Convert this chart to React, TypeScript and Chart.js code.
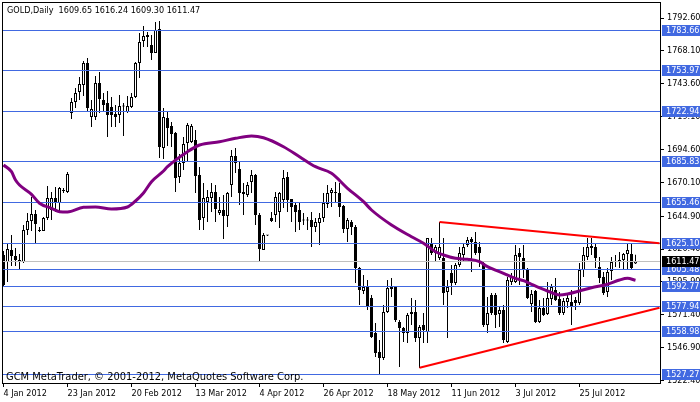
import React, { useEffect, useRef } from "react";
import { Chart, registerables } from "chart.js";

Chart.register(...registerables);

// ---- data (GOLD daily, bar index 0 = 4 Jan 2012) ----
const openP = [
  1615.96,1610.75,1619.69,1615.22,1612.24,1610.75,1634.60,1641.30,1646.52,1634.60,
  1633.85,1643.54,1649.50,1658.45,1654.72,1663.66,1662.92,1721.80,1730.00,1737.45,
  1742.67,1759.07,1718.81,1718.81,1744.16,1731.49,1729.25,1726.27,1721.05,1720.31,
  1727.01,1722.54,1726.27,1733.72,1759.07,1775.46,1778.44,1772.48,1766.52,1784.41,
  1695.71,1718.07,1712.11,1706.89,1674.10,1684.53,1699.44,1700.19,1701.68,1675.59,
  1643.54,1655.47,1658.45,1662.92,1647.27,1649.50,1645.03,1668.14,1689.75,1680.06,
  1662.92,1660.68,1670.37,1675.59,1645.78,1619.69,1630.87,1643.54,1645.78,1648.01,
  1656.96,1674.10,1657.70,1653.23,1649.50,1642.05,1642.05,1642.05,1636.83,1639.81,
  1643.54,1653.97,1662.17,1662.92,1662.17,1652.48,1635.34,1640.56,1636.83,1606.28,
  1589.13,1592.11,1583.91,1557.82,1543.66,1539.19,1573.48,1590.62,1592.11,1566.03,
  1561.55,1557.82,1571.99,1573.48,1554.10,1563.79,1558.57,1624.91,1617.46,1613.73,
  1613.73,1588.39,1602.55,1595.09,1608.51,1615.96,1623.42,1627.89,1625.65,1621.93,
  1610.00,1563.79,1586.15,1586.15,1571.99,1574.97,1551.12,1595.84,1595.84,1617.46,
  1613.73,1604.78,1579.44,1589.13,1566.03,1576.46,1571.99,1583.17,1589.88,1583.17,
  1572.73,1580.93,1580.93,1582.42,1580.18,1604.78,1614.47,1622.67,1621.93,1607.02,
  1599.57,1588.39,1604.04,1610.75,1610.75,1612.24,1616.71,1616.71,1609.65,
];
const highP = [
  1618.95,1624.91,1630.87,1621.18,1616.71,1638.32,1647.27,1659.19,1649.50,1636.83,
  1644.29,1667.39,1662.92,1666.65,1666.65,1665.90,1677.83,1732.98,1740.43,1748.63,
  1760.56,1762.75,1731.49,1749.38,1752.36,1736.71,1738.20,1733.72,1727.76,1735.21,
  1729.25,1734.47,1736.71,1759.81,1781.42,1786.64,1782.17,1779.93,1789.62,1790.37,
  1725.53,1722.54,1715.09,1707.64,1691.24,1703.91,1714.34,1713.60,1709.13,1681.55,
  1669.62,1664.41,1669.62,1668.14,1659.19,1660.68,1662.92,1694.22,1695.71,1685.28,
  1669.62,1670.37,1679.32,1676.34,1647.27,1632.36,1630.87,1648.01,1662.92,1662.92,
  1679.32,1677.83,1657.70,1655.47,1654.72,1647.27,1644.29,1648.01,1643.54,1647.27,
  1662.17,1668.14,1665.90,1670.37,1669.62,1653.23,1643.54,1642.05,1638.32,1607.02,
  1601.06,1597.33,1586.15,1565.28,1552.61,1578.69,1597.33,1598.82,1592.86,1567.52,
  1562.30,1572.73,1583.91,1582.42,1563.79,1572.73,1628.63,1628.63,1623.42,1640.56,
  1628.63,1597.33,1608.51,1610.00,1621.93,1624.91,1629.38,1629.38,1633.11,1625.65,
  1610.75,1584.66,1587.64,1587.64,1577.20,1578.69,1599.57,1602.55,1623.42,1621.18,
  1623.42,1606.28,1589.88,1589.88,1582.42,1583.91,1595.84,1594.35,1598.82,1588.39,
  1583.91,1587.64,1589.88,1584.66,1610.00,1621.93,1628.63,1628.63,1624.91,1614.47,
  1603.29,1606.28,1614.47,1615.96,1618.20,1617.46,1624.91,1624.91,1616.24,
];
const lowP = [
  1592.11,1595.84,1607.77,1607.77,1604.78,1610.00,1630.87,1633.85,1624.91,1633.11,
  1633.85,1642.05,1642.05,1648.01,1647.27,1662.17,1662.17,1717.32,1725.53,1731.49,
  1734.47,1722.54,1711.36,1716.58,1721.80,1722.54,1703.91,1711.36,1711.36,1714.34,
  1704.66,1721.80,1725.53,1732.98,1747.89,1770.99,1770.99,1761.30,1766.52,1688.26,
  1687.51,1697.21,1696.46,1662.92,1669.62,1679.32,1685.28,1699.44,1662.17,1634.60,
  1634.60,1640.56,1648.01,1640.56,1645.78,1627.89,1636.83,1659.19,1677.08,1653.23,
  1645.78,1659.19,1662.17,1638.32,1610.75,1619.69,1630.12,1640.56,1640.56,1636.09,
  1650.99,1648.01,1640.56,1633.11,1634.60,1638.32,1634.60,1621.93,1633.11,1623.42,
  1640.56,1650.99,1651.74,1655.47,1644.29,1632.36,1625.65,1630.87,1595.09,1578.69,
  1586.90,1574.97,1554.10,1539.94,1526.52,1537.70,1572.73,1584.66,1566.03,1532.48,
  1551.12,1550.37,1563.79,1551.12,1531.74,1550.37,1550.37,1615.96,1610.75,1612.24,
  1578.69,1554.10,1586.15,1593.60,1607.02,1610.75,1621.93,1603.29,1615.96,1607.02,
  1562.30,1557.82,1571.24,1561.55,1562.30,1550.37,1550.37,1593.60,1595.09,1593.60,
  1598.82,1583.17,1573.48,1565.28,1565.28,1570.50,1571.24,1578.69,1581.68,1571.24,
  1571.24,1576.46,1563.79,1574.97,1578.69,1599.57,1612.24,1615.96,1606.28,1595.09,
  1586.15,1584.66,1597.33,1607.02,1606.28,1604.78,1604.78,1604.78,1609.30,
];
const closeP = [
  1593.60,1620.44,1615.22,1612.24,1610.75,1634.60,1641.30,1646.52,1639.07,1633.85,
  1643.54,1658.45,1658.45,1654.72,1665.90,1664.41,1676.34,1730.00,1736.71,1743.41,
  1759.07,1725.53,1724.78,1744.16,1732.23,1727.76,1720.31,1720.31,1718.81,1727.01,
  1726.64,1727.01,1733.72,1759.07,1774.72,1779.19,1779.93,1766.52,1783.66,1696.46,
  1718.81,1710.61,1706.15,1673.35,1684.53,1698.69,1712.85,1712.11,1674.84,1642.05,
  1658.45,1659.19,1662.92,1650.25,1649.50,1645.03,1662.17,1689.75,1684.53,1662.17,
  1661.43,1668.14,1675.59,1645.78,1620.44,1630.87,1630.50,1641.30,1659.19,1662.17,
  1673.35,1656.96,1651.74,1648.01,1640.56,1641.68,1641.68,1636.83,1640.56,1643.54,
  1654.72,1662.17,1664.41,1662.17,1651.74,1635.34,1642.05,1636.83,1606.28,1589.88,
  1592.11,1577.20,1554.84,1542.92,1539.19,1573.48,1591.37,1592.11,1567.52,1561.55,
  1557.82,1571.24,1573.48,1554.10,1562.30,1560.06,1628.63,1617.46,1621.93,1621.93,
  1587.64,1592.11,1595.09,1608.51,1617.46,1621.93,1627.14,1625.65,1617.46,1617.46,
  1563.79,1572.73,1572.73,1571.24,1574.97,1552.61,1597.33,1599.57,1615.96,1614.47,
  1604.78,1583.91,1586.90,1566.03,1576.46,1571.24,1583.91,1592.11,1582.42,1572.73,
  1581.68,1583.91,1577.20,1580.18,1604.78,1615.96,1621.93,1621.18,1613.73,1598.82,
  1587.64,1603.29,1610.75,1611.12,1612.24,1616.71,1619.69,1606.28,1611.47,
];

// moving average (purple), read at these bar indices
const maIdx = [0,2,3,4,7,9,12,14,16,20,23,27,31,33,35,37,40,41,46,49,54,58,62,65,70,74,78,82,86,90,92,97,102,105,108,110,113,116,119,121,125,128,130,132,136,139,141,144,147,151,154,156,158];
const maVal = [1683.04,1678.05,1671.86,1668.14,1661.20,1654.49,1650.77,1648.23,1648.01,1651.52,1651.74,1650.25,1651.74,1656.21,1662.17,1670.60,1678.57,1681.78,1692.96,1697.95,1700.41,1702.94,1704.66,1703.39,1696.68,1689.23,1681.78,1676.86,1665.68,1655.69,1649.50,1638.32,1629.60,1624.68,1618.42,1615.96,1613.50,1612.76,1610.97,1607.24,1602.32,1598.60,1596.81,1594.12,1589.13,1586.15,1586.90,1589.13,1591.59,1594.12,1597.33,1598.60,1597.10];

// trend lines (red)
const upperTrendIdx = [109, 164];
const upperTrendVal = [1640.56, 1624.72];
const lowerTrendIdx = [104, 164];
const lowerTrendVal = [1531.96, 1576.59];

// horizontal levels (blue) and current price (grey)
const levels = [1783.66,1753.97,1722.94,1685.83,1655.46,1625.10,1605.48,1592.77,1577.94,1558.98,1527.27];
const lastPrice = 1611.47;

// axis ticks
const yTicks = [1792.60,1768.10,1743.60,1719.10,1694.60,1670.10,1644.90,1620.40,1595.90,1571.40,1546.90,1522.40];
const xTickIdx = [0,16,32,48,64,80,96,112,128,144];
const xTickLabels = ["4 Jan 2012","23 Jan 2012","20 Feb 2012","13 Mar 2012","4 Apr 2012","26 Apr 2012","18 May 2012","11 Jun 2012","3 Jul 2012","25 Jul 2012"];

const SYMBOL = "GOLD,Daily";
const COPYRIGHT = "GCM MetaTrader, \u00A9 2001-2012, MetaQuotes Software Corp.";

// ---- style ----
const FONT = "'DejaVu Sans Condensed', 'Liberation Sans Narrow', 'DejaVu Sans', sans-serif";
const FONT_SIZE = 9;
const FOOTER_SIZE = 11;
const BLUE = "#4169E1";
const X_MIN = -0.375;
const X_MAX = 164.125;
const Y_MIN = 1520.56;
const Y_MAX = 1804.53;

export default function App() {
  const ref = useRef<HTMLCanvasElement | null>(null);

  useEffect(() => {
    document.body.style.margin = "0";
    const canvas = ref.current;
    if (!canvas) return;

    const wicks = lowP.map((l, i) => ({ x: i, y: [l, highP[i]] }));
    const bodies = openP.map((o, i) => ({ x: i, y: [o, closeP[i]] }));
    const bodyColors = openP.map((o, i) => (closeP[i] >= o ? "#ffffff" : "#000000"));
    const ma = maIdx.map((x, k) => ({ x, y: maVal[k] }));
    const upper = upperTrendIdx.map((x, k) => ({ x, y: upperTrendVal[k] }));
    const lower = lowerTrendIdx.map((x, k) => ({ x, y: lowerTrendVal[k] }));
    const n = openP.length - 1;
    const title = `${SYMBOL}  ${openP[n].toFixed(2)} ${highP[n].toFixed(2)} ${lowP[n].toFixed(2)} ${closeP[n].toFixed(2)}`;
    const font = `${FONT_SIZE}px ${FONT}`;
    const footerFont = `${FOOTER_SIZE}px ${FONT}`;

    const overlay = {
      id: "mtOverlay",
      beforeDatasetDraw(chart: any, args: any) {
        if (args.index !== 2) return;
        const { ctx, chartArea: a, scales } = chart;
        const ys = scales.y;
        ctx.save();
        ctx.beginPath();
        ctx.rect(a.left, a.top, a.right - a.left, a.bottom - a.top);
        ctx.clip();
        ctx.lineWidth = 1;
        const py = Math.round(ys.getPixelForValue(lastPrice)) + 0.5;
        ctx.strokeStyle = "#c0c0c0";
        ctx.beginPath();
        ctx.moveTo(a.left, py);
        ctx.lineTo(a.right, py);
        ctx.stroke();
        ctx.strokeStyle = BLUE;
        for (const v of levels) {
          const y = Math.round(ys.getPixelForValue(v)) + 0.5;
          ctx.beginPath();
          ctx.moveTo(a.left, y);
          ctx.lineTo(a.right, y);
          ctx.stroke();
        }
        ctx.restore();
      },
      afterDraw(chart: any) {
        const { ctx, chartArea: a, scales } = chart;
        const ys = scales.y;
        ctx.save();
        // frame
        ctx.strokeStyle = "#000";
        ctx.lineWidth = 1;
        ctx.strokeRect(a.left + 0.5, a.top + 0.5, a.right - a.left, a.bottom - a.top);
        // level labels
        ctx.font = font;
        ctx.textBaseline = "middle";
        ctx.textAlign = "left";
        const tag = (v: number, bg: string) => {
          const y = Math.round(ys.getPixelForValue(v));
          ctx.fillStyle = bg;
          ctx.fillRect(a.right + 2, y - 5, chart.width - a.right - 2, 11);
          ctx.fillStyle = "#ffffff";
          ctx.fillText(v.toFixed(2), a.right + 6, y + 0.5);
        };
        for (const v of levels) tag(v, BLUE);
        tag(lastPrice, "#000000");
        // texts
        ctx.fillStyle = "#000";
        ctx.fillText(title, a.left + 5, a.top + 9);
        ctx.font = footerFont;
        ctx.fillText(COPYRIGHT, a.left + 4, a.bottom - 6);
        ctx.restore();
      },
    };

    const chart = new Chart(canvas, {
      type: "bar",
      data: {
        datasets: [
          {
            type: "bar",
            data: wicks as any,
            backgroundColor: "#000000",
            borderWidth: 0,
            barThickness: 1,
            grouped: false,
            inflateAmount: 0,
            order: 5,
          } as any,
          {
            type: "bar",
            data: bodies as any,
            backgroundColor: bodyColors,
            borderColor: "#000000",
            borderWidth: 1,
            borderSkipped: false,
            barThickness: 3,
            minBarLength: 1,
            grouped: false,
            inflateAmount: 0,
            order: 4,
          } as any,
          {
            type: "line",
            data: ma as any,
            borderColor: "#800080",
            borderWidth: 3,
            pointRadius: 0,
            cubicInterpolationMode: "monotone",
            order: 3,
          } as any,
          {
            type: "line",
            data: upper as any,
            borderColor: "#ff0000",
            borderWidth: 2,
            pointRadius: 0,
            order: 2,
          } as any,
          {
            type: "line",
            data: lower as any,
            borderColor: "#ff0000",
            borderWidth: 2,
            pointRadius: 0,
            order: 1,
          } as any,
        ],
      },
      options: {
        responsive: false,
        animation: false,
        devicePixelRatio: 1,
        layout: { padding: { left: 2, top: 2, right: 0, bottom: 0 } },
        plugins: {
          legend: { display: false },
          tooltip: { enabled: false },
        },
        scales: {
          x: {
            type: "linear",
            min: X_MIN,
            max: X_MAX,
            offset: false,
            grid: { display: true, drawOnChartArea: false, drawTicks: true, tickLength: 4, color: "#000", offset: false },
            border: { display: false },
            ticks: {
              autoSkip: false,
              maxRotation: 0,
              minRotation: 0,
              align: "start",
              padding: 1,
              color: "#000",
              font: { family: FONT, size: FONT_SIZE },
              callback: (v: any) => {
                const k = xTickIdx.indexOf(Number(v));
                return k >= 0 ? xTickLabels[k] : "";
              },
            },
            afterBuildTicks: (s: any) => {
              s.ticks = xTickIdx.map((v) => ({ value: v }));
            },
            afterFit: (s: any) => {
              s.height = 19;
              s.paddingLeft = 0;
              s.paddingRight = 0;
            },
          },
          y: {
            type: "linear",
            position: "right",
            min: Y_MIN,
            max: Y_MAX,
            beginAtZero: false,
            grid: { display: true, drawOnChartArea: false, drawTicks: true, tickLength: 4, color: "#000" },
            border: { display: false },
            ticks: {
              autoSkip: false,
              padding: 3,
              color: "#000",
              font: { family: FONT, size: FONT_SIZE },
              callback: (v: any) => Number(v).toFixed(2),
            },
            afterBuildTicks: (s: any) => {
              s.ticks = yTicks.map((v) => ({ value: v }));
            },
            afterFit: (s: any) => {
              s.width = 40;
              s.paddingTop = 0;
              s.paddingBottom = 0;
            },
          },
        },
      } as any,
      plugins: [overlay as any],
    });

    return () => chart.destroy();
  }, []);

  return (
    <div style={{ width: 700, height: 402, background: "#fff" }}>
      <canvas ref={ref} width={700} height={402} style={{ display: "block" }} />
    </div>
  );
}
